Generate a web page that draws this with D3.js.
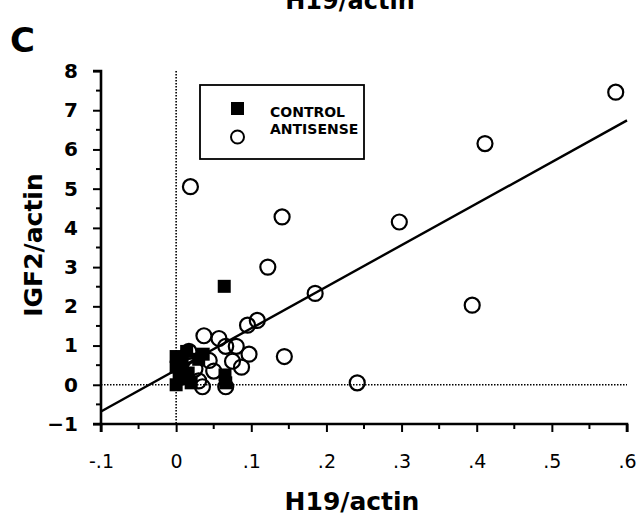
<!DOCTYPE html>
<html>
<head>
<meta charset="utf-8">
<script src="https://cdn.jsdelivr.net/npm/d3@7"></script>
<style>
  body { margin: 0; background: #fff; }
  text { font-family: "DejaVu Sans", Verdana, sans-serif; fill: #000; }
</style>
</head>
<body>
<div id="chart-area"></div>
<script>

// data
let controlX = [0.064, 0.0, 0.0, 0.004, 0.0, 0.016, 0.03, 0.036, 0.065, 0.02, 0.008, 0.014, 0.01, 0.066]
let controlY = [2.51, 0.72, 0.45, 0.15, 0.0, 0.3, 0.65, 0.78, 0.25, 0.05, 0.55, 0.85, 0.2, 0.05]

let antisenseX = [0.585, 0.411, 0.297, 0.019, 0.141, 0.122, 0.185, 0.394, 0.241, 0.144,
                  0.108, 0.095, 0.037, 0.057, 0.066, 0.08, 0.097, 0.087, 0.017, 0.044,
                  0.03, 0.066, 0.035, 0.05, 0.025, 0.075]
let antisenseY = [7.46, 6.15, 4.15, 5.05, 4.28, 3.0, 2.33, 2.03, 0.05, 0.72,
                  1.64, 1.52, 1.25, 1.18, 0.98, 0.98, 0.78, 0.45, 0.85, 0.62,
                  0.1, -0.05, -0.05, 0.35, 0.4, 0.6]

// fitted line
let fitSlope = 10.6
let fitIntercept = 0.38

let xTicks = [-0.1, 0, 0.1, 0.2, 0.3, 0.4, 0.5, 0.6]
let xTickLabels = ["-.1", "0", ".1", ".2", ".3", ".4", ".5", ".6"]
let yTicks = [-1, 0, 1, 2, 3, 4, 5, 6, 7, 8]

let legendLabels = ["CONTROL", "ANTISENSE"]

// margin conventions
let margin = {top: 71, right: 13, bottom: 100, left: 101},
    width = 640 - margin.left - margin.right,
    height = 523 - margin.top - margin.bottom;

let svgRoot = d3.select("#chart-area").append("svg")
    .attr("width", 640)
    .attr("height", 523)

let svg = svgRoot.append("g")
    .attr("transform", "translate(" + margin.left + "," + margin.top + ")");

let x = d3.scaleLinear().domain([-0.1, 0.6]).range([0, width])
let y = d3.scaleLinear().domain([-1, 8]).range([height + 1, 0])

// reference lines at zero (dotted)
svg.append("line")
    .attr("x1", x(0)).attr("x2", x(0))
    .attr("y1", y(8)).attr("y2", y(-1))
    .attr("stroke", "#000").attr("stroke-width", 1.6)
    .attr("stroke-dasharray", "1.5,1.5")

svg.append("line")
    .attr("x1", x(-0.1)).attr("x2", x(0.6))
    .attr("y1", y(0)).attr("y2", y(0))
    .attr("stroke", "#000").attr("stroke-width", 1.6)
    .attr("stroke-dasharray", "1.5,1.5")

// axes
let xAxis = d3.axisBottom(x)
    .tickValues(xTicks)
    .tickFormat((d, i) => xTickLabels[i])
    .tickSize(8)
    .tickPadding(23)

let xAxisG = svg.append("g")
    .attr("transform", "translate(0," + y(-1) + ")")
    .call(xAxis)

// minor ticks
let xMinor = d3.range(-0.05, 0.6, 0.1)
xAxisG.selectAll(".minor").data(xMinor).enter()
    .append("line").attr("class", "minor")
    .attr("x1", d => x(d)).attr("x2", d => x(d))
    .attr("y1", 0).attr("y2", 5)
    .attr("stroke", "#000").attr("stroke-width", 2)

let yAxis = d3.axisLeft(y)
    .tickValues(yTicks)
    .tickFormat(d3.format("d"))
    .tickSize(8)
    .tickPadding(15)

let yAxisG = svg.append("g").call(yAxis)

let yMinor = d3.range(-0.5, 8, 1)
yAxisG.selectAll(".minor").data(yMinor).enter()
    .append("line").attr("class", "minor")
    .attr("x1", 0).attr("x2", -5)
    .attr("y1", d => y(d)).attr("y2", d => y(d))
    .attr("stroke", "#000").attr("stroke-width", 2)

svg.selectAll(".domain").attr("stroke-width", 2.6).attr("stroke", "#000")
svg.selectAll(".tick line").attr("stroke-width", 2).attr("stroke", "#000")
xAxisG.selectAll(".tick text").style("font-size", "19px").style("font-weight", "normal")
xAxisG.select(".domain").attr("d", "M" + x(-0.1) + ",8V0H" + x(0.6) + "V8")
yAxisG.selectAll(".tick text").style("font-size", "20px").style("font-weight", "bold")
yAxisG.select(".domain").attr("d", "M-8," + y(8) + "H0V" + y(-1) + "H-8")

// regression line
svg.append("line")
    .attr("x1", x(-0.1)).attr("y1", y(fitIntercept + fitSlope * -0.1))
    .attr("x2", x(0.6)).attr("y2", y(fitIntercept + fitSlope * 0.6))
    .attr("stroke", "#000").attr("stroke-width", 2.4)

// antisense: open circles
let antisenseData = antisenseX.map((d, i) => ({x: d, y: antisenseY[i]}))
svg.selectAll(".antisense").data(antisenseData).enter()
    .append("circle")
    .attr("class", "antisense")
    .attr("cx", d => x(d.x))
    .attr("cy", d => y(d.y))
    .attr("r", 7.5)
    .attr("fill", "none")
    .attr("stroke", "#000")
    .attr("stroke-width", 2.2)

// control: filled squares
let controlData = controlX.map((d, i) => ({x: d, y: controlY[i]}))
let sq = 13
svg.selectAll(".control").data(controlData).enter()
    .append("rect")
    .attr("class", "control")
    .attr("x", d => x(d.x) - sq / 2)
    .attr("y", d => y(d.y) - sq / 2)
    .attr("width", sq).attr("height", sq)
    .attr("fill", "#000")

// legend
let legend = svgRoot.append("g").attr("transform", "translate(200,85)")
legend.append("rect")
    .attr("width", 164).attr("height", 74)
    .attr("fill", "#fff").attr("stroke", "#000").attr("stroke-width", 1.8)
legend.append("rect")
    .attr("x", 31).attr("y", 17).attr("width", 13).attr("height", 13)
    .attr("fill", "#000")
legend.append("circle")
    .attr("cx", 37.5).attr("cy", 52).attr("r", 6.5)
    .attr("fill", "none").attr("stroke", "#000").attr("stroke-width", 2)
legend.selectAll(".legend-label").data(legendLabels).enter()
    .append("text")
    .attr("class", "legend-label")
    .attr("x", 70)
    .attr("y", (d, i) => 32 + i * 17)
    .style("font-size", "14px")
    .style("font-weight", "bold")
    .text(d => d)

// titles
svgRoot.append("text")
    .attr("x", 350).attr("y", 9)
    .attr("text-anchor", "middle")
    .style("font-size", "24px").style("font-weight", "bold")
    .text("H19/actin")

svgRoot.append("text")
    .attr("x", 10).attr("y", 52)
    .style("font-size", "34px").style("font-weight", "bold")
    .text("C")

svgRoot.append("text")
    .attr("x", 352).attr("y", 510)
    .attr("text-anchor", "middle")
    .style("font-size", "25px").style("font-weight", "bold")
    .text("H19/actin")

svgRoot.append("text")
    .attr("transform", "translate(42,245) rotate(-90)")
    .attr("text-anchor", "middle")
    .style("font-size", "25px").style("font-weight", "bold")
    .text("IGF2/actin")

</script>
</body>
</html>
